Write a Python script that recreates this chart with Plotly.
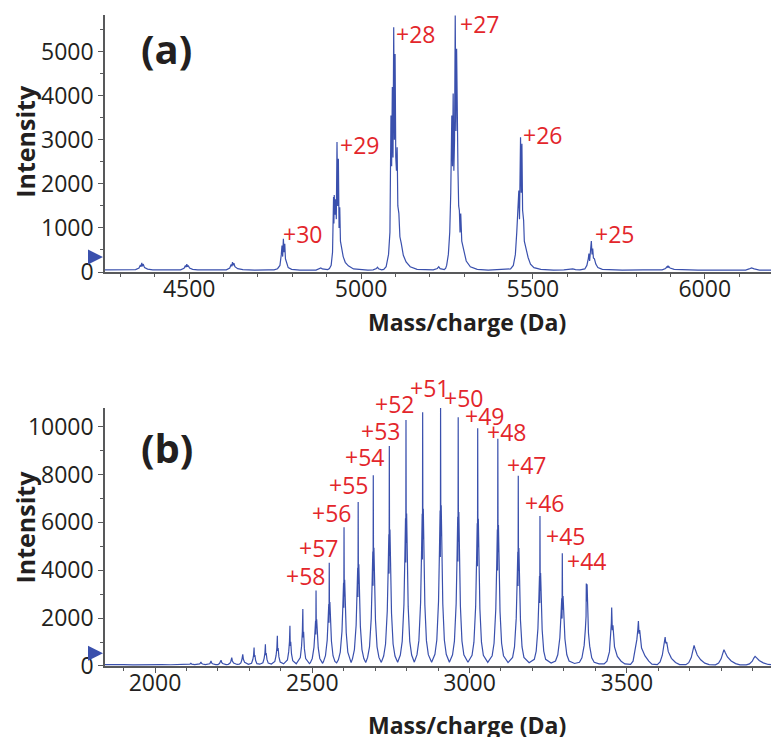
import plotly.graph_objects as go

# ---------------- Panel (a): mass spectrum, charge states +25..+30 ----------------
# (m/z in Da, intensity) vertices
a_left = [(4255, 50), (4300, 45), (4330, 52)]
a_s4362 = [(4344, 55), (4354, 90), (4358, 160), (4360, 120), (4362, 205), (4364, 130),
           (4366, 180), (4370, 100), (4379, 65), (4394, 50)]
a_s4493 = [(4475, 50), (4485, 85), (4489, 150), (4491, 110), (4493, 180), (4495, 120),
           (4497, 150), (4501, 90), (4510, 60), (4525, 50), (4560, 46)]
a_s4628 = [(4608, 50), (4618, 90), (4622, 170), (4624, 130), (4626, 225), (4628, 150),
           (4630, 200), (4633, 120), (4641, 75), (4656, 55), (4690, 42), (4730, 48)]
a_z30 = [(4747, 50), (4757, 75), (4764, 150), (4768, 400), (4770, 600), (4772, 350),
         (4774, 757), (4776, 450), (4778, 640), (4780, 300), (4783, 200), (4788, 100),
         (4798, 60), (4822, 45)]
a_s4883 = [(4869, 45), (4879, 70), (4883, 95), (4887, 70), (4898, 48)]
a_z29 = [(4903, 55), (4908, 80), (4913, 150), (4917, 450), (4919, 1200), (4920, 1700),
         (4921, 1100), (4922, 1750), (4924, 1300), (4926, 1650), (4928, 1200), (4930, 2948),
         (4932, 1500), (4934, 2570), (4936, 1000), (4938, 1470), (4940, 700), (4943, 560),
         (4948, 350), (4954, 220), (4963, 140), (4978, 70), (4998, 50), (5020, 45)]
a_s5048 = [(5035, 50), (5045, 80), (5048, 110), (5051, 75), (5060, 50)]
a_z28 = [(5066, 60), (5073, 120), (5080, 400), (5084, 900), (5086, 2000), (5087, 3550),
         (5089, 2400), (5091, 4200), (5093, 2600), (5095, 5556), (5097, 3000), (5099, 4950),
         (5101, 2600), (5103, 2300), (5105, 2830), (5107, 1500), (5110, 1330), (5113, 800),
         (5117, 650), (5123, 380), (5131, 230), (5143, 120), (5163, 60), (5190, 48)]
a_s5226 = [(5210, 50), (5222, 80), (5226, 120), (5230, 75), (5242, 55)]
a_z27 = [(5246, 80), (5249, 150), (5254, 400), (5258, 900), (5261, 1800), (5264, 3550),
         (5266, 2400), (5268, 4050), (5270, 2300), (5272, 3000), (5274, 5821), (5276, 3200),
         (5278, 5066), (5280, 2800), (5282, 2300), (5284, 1500), (5286, 1400), (5288, 900),
         (5290, 1330), (5293, 700), (5298, 520), (5306, 250), (5318, 120), (5338, 60),
         (5370, 45), (5400, 52)]
a_z26 = [(5413, 50), (5435, 70), (5443, 150), (5449, 400), (5453, 900), (5456, 1300),
         (5459, 1850), (5461, 1200), (5464, 3061), (5466, 1800), (5468, 2910), (5470, 1400),
         (5473, 1170), (5475, 700), (5478, 600), (5482, 450), (5486, 330), (5493, 180),
         (5503, 100), (5523, 60), (5560, 45), (5590, 50)]
a_s5616 = [(5609, 55), (5616, 70), (5624, 55)]
a_z25 = [(5637, 50), (5651, 70), (5657, 150), (5661, 300), (5663, 420), (5665, 250),
         (5667, 450), (5670, 703), (5672, 400), (5674, 530), (5676, 320), (5679, 300),
         (5683, 180), (5689, 100), (5702, 60), (5760, 45), (5820, 50), (5860, 45)]
a_s5893 = [(5876, 50), (5886, 80), (5891, 130), (5893, 100), (5895, 130), (5899, 90),
           (5911, 60), (5980, 45), (6060, 48)]
a_s6136 = [(6119, 45), (6129, 70), (6136, 95), (6144, 70), (6159, 45), (6216, 40)]

a_segments = [a_left, a_s4362, a_s4493, a_s4628, a_z30, a_s4883, a_z29, a_s5048, a_z28,
              a_s5226, a_z27, a_z26, a_s5616, a_z25, a_s5893, a_s6136]

a_labels = ["+30", "+29", "+28", "+27", "+26", "+25"]
a_label_mz = [4830, 4995, 5157, 5345, 5529, 5738]
a_label_int = [871, 2873, 5406, 5633, 3100, 871]

# ---------------- Panel (b): mass spectrum, charge states +44..+58 ----------------
b_left = [(1841, 60), (1870, 45), (1900, 60), (1930, 48), (1960, 62), (1990, 50),
          (2020, 58), (2050, 52)]
b_small = [
    (2075, 55), (2081, 65), (2083, 80), (2086, 62), (2095, 50),
    (2105, 55), (2111, 75), (2114, 115), (2117, 75), (2126, 55),
    (2136, 55), (2142, 85), (2144, 120), (2146, 170), (2148, 110), (2151, 85), (2160, 55),
    (2168, 60), (2174, 95), (2176, 140), (2178, 210), (2180, 130), (2183, 95), (2193, 60),
    (2200, 60), (2205, 100), (2208, 160), (2210, 240), (2212, 150), (2215, 105), (2226, 62),
    (2233, 70), (2238, 110), (2241, 190), (2244, 350), (2246, 210), (2250, 120), (2261, 65),
    (2268, 75), (2273, 130), (2276, 250), (2279, 490), (2281, 280), (2285, 150), (2297, 70),
]
b_rise = [
    (2307, 115), (2311, 270), (2313.5, 460), (2315, 770), (2316, 385), (2317.5, 460), (2320, 230), (2324, 100), (2333, 75),
    (2343, 135), (2347, 320), (2349.5, 545), (2351, 910), (2352, 455), (2353.5, 545), (2356, 275), (2360, 120), (2370, 80),
    (2381, 190), (2385, 440), (2387.5, 755), (2389, 1260), (2390, 630), (2391.5, 755), (2394, 380), (2398, 165), (2409, 90),
    (2421, 250), (2425, 590), (2427.5, 1010), (2429, 1680), (2430, 840), (2431.5, 1010), (2434, 505), (2438, 220), (2449, 95),
    (2462, 355), (2466, 830), (2468.5, 1430), (2470, 2380), (2471, 1190), (2472.5, 1430), (2475, 715), (2479, 310), (2491, 100),
    (2494, 140), (2500, 315), (2505.5, 790), (2508.5, 1420), (2510.5, 1890), (2511.3, 1320), (2512, 3150),
    (2512.8, 1575), (2514, 1950), (2516, 1260), (2519, 755), (2524, 315), (2530, 140), (2533, 110),
]
b_z58_54 = [
    (2536, 195), (2542, 430), (2547.5, 1080), (2550.5, 1940), (2552.5, 2590), (2553.3, 1810), (2554, 4310),
    (2554.8, 2155), (2556, 2670), (2558, 1725), (2561, 1035), (2566, 430), (2572, 195), (2577.5, 130),
    (2583, 260), (2589, 580), (2594.5, 1450), (2597.5, 2610), (2599.5, 3480), (2600.3, 2435), (2601, 5800),
    (2601.8, 2900), (2603, 3600), (2605, 2320), (2608, 1390), (2613, 580), (2619, 260), (2623.5, 140),
    (2628, 310), (2634, 685), (2639.5, 1710), (2642.5, 3080), (2644.5, 4110), (2645.3, 2880), (2646, 6850),
    (2646.8, 3425), (2648, 4250), (2650, 2740), (2653, 1645), (2658, 685), (2664, 310), (2670, 145),
    (2676, 360), (2682, 800), (2687.5, 1990), (2690.5, 3590), (2692.5, 4780), (2693.3, 3350), (2694, 7970),
    (2694.8, 3985), (2696, 4940), (2698, 3190), (2701, 1910), (2706, 800), (2712, 360), (2719.5, 150),
    (2727, 415), (2733, 920), (2738.5, 2300), (2741.5, 4135), (2743.5, 5510), (2744.3, 3860), (2745, 9190),
    (2745.8, 4595), (2747, 5700), (2749, 3675), (2752, 2205), (2757, 920), (2763, 415), (2771.5, 155),
]
b_z53_49 = [
    (2780, 460), (2786, 1030), (2791.5, 2570), (2794.5, 4625), (2796.5, 6170), (2797.3, 4320), (2798, 10280),
    (2798.8, 5140), (2800, 6375), (2802, 4110), (2805, 2470), (2810, 1030), (2816, 460), (2824.5, 160),
    (2833, 475), (2839, 1060), (2844.5, 2650), (2847.5, 4770), (2849.5, 6360), (2850.3, 4450), (2851, 10600),
    (2851.8, 5300), (2853, 6570), (2855, 4240), (2858, 2545), (2863, 1060), (2869, 475), (2879.5, 160),
    (2890, 490), (2896, 1085), (2901.5, 2710), (2904.5, 4880), (2906.5, 6500), (2907.3, 4550), (2908, 10840),
    (2908.8, 5420), (2910, 6720), (2912, 4335), (2915, 2600), (2920, 1085), (2926, 490), (2936, 160),
    (2946, 470), (2952, 1040), (2957.5, 2600), (2960.5, 4675), (2962.5, 6235), (2963.3, 4365), (2964, 10390),
    (2964.8, 5195), (2966, 6440), (2968, 4155), (2971, 2495), (2976, 1040), (2982, 470), (2995, 155),
    (3008, 445), (3014, 995), (3019.5, 2480), (3022.5, 4470), (3024.5, 5960), (3025.3, 4170), (3026, 9930),
    (3026.8, 4965), (3028, 6155), (3030, 3970), (3033, 2385), (3038, 995), (3044, 445), (3058, 150),
]
b_z48_44 = [
    (3072, 430), (3078, 950), (3083.5, 2375), (3086.5, 4275), (3088.5, 5700), (3089.3, 3990), (3090, 9500),
    (3090.8, 4750), (3092, 5890), (3094, 3800), (3097, 2280), (3102, 950), (3108, 430), (3122.5, 145),
    (3137, 360), (3143, 795), (3148.5, 1990), (3151.5, 3580), (3153.5, 4770), (3154.3, 3340), (3155, 7950),
    (3155.8, 3975), (3157, 4930), (3159, 3180), (3162, 1910), (3167, 795), (3173, 360), (3189.5, 135),
    (3206, 280), (3212, 625), (3217.5, 1570), (3220.5, 2820), (3222.5, 3760), (3223.3, 2630), (3224, 6270),
    (3224.8, 3135), (3226, 3890), (3228, 2510), (3231, 1505), (3236, 625), (3242, 280), (3259.5, 125),
    (3273.4, 210), (3280.6, 470), (3287.2, 1180), (3290.8, 2120), (3293.2, 2830), (3294.2, 1980), (3295, 4710),
    (3296, 2355), (3297.4, 2920), (3299.8, 1885), (3303.4, 1130), (3309.4, 470), (3316.6, 210), (3334, 105),
    (3349.6, 155), (3357.4, 345), (3364.5, 860), (3368.4, 1550), (3370.5, 2070), (3371.3, 3450),
    (3372.5, 2700), (3373.8, 3420), (3375.6, 2140), (3378.2, 1380), (3382.1, 830), (3388.6, 345),
    (3396.4, 155), (3412, 90),
]
b_tail = [
    (3428, 85), (3437, 200), (3445, 600), (3449, 1200), (3451, 1800), (3452, 2440),
    (3454, 1500), (3456, 1700), (3461, 800), (3470, 400), (3482, 200), (3494, 85),
    (3512, 70), (3520, 200), (3527, 650), (3532, 1100), (3535, 1500), (3537, 1880),
    (3539, 1350), (3541, 1500), (3547, 750), (3558, 420), (3570, 200), (3580, 80),
    (3597, 60), (3606, 170), (3613, 450), (3618, 800), (3621, 1100), (3622, 1210),
    (3624, 950), (3627, 1000), (3632, 600), (3642, 320), (3655, 150), (3668, 60),
    (3688, 55), (3697, 140), (3705, 350), (3710, 620), (3714, 860), (3717, 720),
    (3724, 460), (3735, 260), (3748, 120), (3762, 55),
    (3782, 50), (3792, 120), (3800, 300), (3805, 520), (3809, 680), (3813, 560),
    (3820, 380), (3832, 210), (3846, 100), (3860, 50),
    (3880, 45), (3890, 90), (3899, 200), (3904, 330), (3908, 400), (3913, 340),
    (3921, 230), (3934, 130), (3950, 65), (3966, 45), (3984, 40),
]
b_segments = [b_left, b_small, b_rise, b_z58_54, b_z53_49, b_z48_44, b_tail]

b_labels = ["+58", "+57", "+56", "+55", "+54", "+53", "+52", "+51", "+50",
            "+49", "+48", "+47", "+46", "+45", "+44"]
b_label_mz = [2479, 2519, 2562, 2615, 2665, 2718, 2763, 2872, 2980,
              3047, 3118, 3182, 3237, 3304, 3371]
b_label_int = [3756, 4918, 6412, 7575, 8737, 9811, 10932, 11632, 11213,
               10441, 9769, 8414, 6832, 5447, 4398]

a_xrange = [4255, 6216]
b_xrange = [1841, 3984]
a_ymax = 5833
b_ymax = 10781
a_xticks = [4500, 5000, 5500, 6000]
b_xticks = [2000, 2500, 3000, 3500]
a_yticks = [0, 1000, 2000, 3000, 4000, 5000]
b_yticks = [0, 2000, 4000, 6000, 8000, 10000]
arrow_level_a = 340
arrow_level_b = 537


def unzip(segments):
    xs, ys = [], []
    for seg in segments:
        for mz, inten in seg:
            xs.append(mz)
            ys.append(inten)
    return xs, ys


mz_a, int_a = unzip(a_segments)
mz_b, int_b = unzip(b_segments)

LINE = "#3a50ad"
RED = "#e3262b"
INK = "#231f20"
AXIS = "#58595b"
FONT = "Open Sans"

fig = go.Figure()
fig.add_trace(go.Scatter(x=mz_a, y=int_a, mode="lines", xaxis="x", yaxis="y",
                         line=dict(color=LINE, width=1.2), hoverinfo="skip"))
fig.add_trace(go.Scatter(x=mz_b, y=int_b, mode="lines", xaxis="x2", yaxis="y2",
                         line=dict(color=LINE, width=1.2), hoverinfo="skip"))

common_x = dict(showline=True, linecolor=AXIS, linewidth=1.5, showgrid=False, zeroline=False,
                ticks="outside", ticklen=5, tickwidth=1.2, tickcolor=AXIS,
                tickfont=dict(family=FONT, size=23, color=INK), tickformat="d",
                ticklabelstandoff=-9,
                minor=dict(dtick=100, ticks="outside", ticklen=3, tickcolor=AXIS))
common_y = dict(showline=True, linecolor=AXIS, linewidth=1.5, showgrid=False, zeroline=False,
                ticks="outside", ticklen=5, tickwidth=1.2, tickcolor=AXIS,
                tickfont=dict(family=FONT, size=23, color=INK), tickformat="d")

# the page body adds an 8 px offset, so the figure is 8 px smaller and margins compensate
fig.update_layout(
    width=771, height=729,
    margin=dict(l=97, r=0, t=7, b=71),
    paper_bgcolor="white", plot_bgcolor="white",
    showlegend=False,
    xaxis=dict(common_x, range=a_xrange, tickvals=a_xticks, anchor="y", domain=[0, 1]),
    yaxis=dict(common_y, range=[0, a_ymax], tickvals=a_yticks, anchor="x", domain=[0.6052, 1.0],
               minor=dict(dtick=500, ticks="outside", ticklen=3, tickcolor=AXIS)),
    xaxis2=dict(common_x, range=b_xrange, tickvals=b_xticks, anchor="y2", domain=[0, 1]),
    yaxis2=dict(common_y, range=[0, b_ymax], tickvals=b_yticks, anchor="x2", domain=[0, 0.3963],
                minor=dict(dtick=1000, ticks="outside", ticklen=3, tickcolor=AXIS)),
)

ann = []
for t, x, y in zip(a_labels, a_label_mz, a_label_int):
    ann.append(dict(x=(x - a_xrange[0]) / (a_xrange[1] - a_xrange[0]), y=y / a_ymax,
                    xref="x domain", yref="y domain", text=t, showarrow=False,
                    font=dict(family=FONT, size=23, color=RED), xanchor="center", yanchor="middle"))
for t, x, y in zip(b_labels, b_label_mz, b_label_int):
    ann.append(dict(x=(x - b_xrange[0]) / (b_xrange[1] - b_xrange[0]), y=y / b_ymax,
                    xref="x2 domain", yref="y2 domain", text=t, showarrow=False,
                    font=dict(family=FONT, size=23, color=RED), xanchor="center", yanchor="middle"))

# panel letters
ann.append(dict(x=0.0915, y=0.9478, xref="paper", yref="paper", text="<b>(a)</b>", showarrow=False,
                font=dict(family=FONT, size=40, color=INK), xanchor="center", yanchor="middle"))
ann.append(dict(x=0.0915, y=0.336, xref="paper", yref="paper", text="<b>(b)</b>", showarrow=False,
                font=dict(family=FONT, size=40, color=INK), xanchor="center", yanchor="middle"))

# axis titles
for yy in (0.8065, 0.214):
    ann.append(dict(x=-0.119, y=yy, xref="paper", yref="paper", text="<b>Intensity</b>",
                    showarrow=False, textangle=-90,
                    font=dict(family=FONT, size=25, color=INK), xanchor="center", yanchor="middle"))
for yy in (0.529, -0.0913):
    ann.append(dict(x=0.5364, y=yy, xref="paper", yref="paper", text="<b>Mass/charge (Da)</b>",
                    showarrow=False, font=dict(family=FONT, size=23, color=INK),
                    xanchor="center", yanchor="middle"))

# small baseline arrows left of the y axes
for xr, yr, lvl in (("x domain", "y", arrow_level_a), ("x2 domain", "y2", arrow_level_b)):
    ann.append(dict(x=-0.003, y=lvl, xref=xr, yref=yr, text="", showarrow=True,
                    arrowhead=2, arrowsize=1, arrowwidth=3, arrowcolor=LINE,
                    ax=-8, ay=0, axref="pixel", ayref="pixel"))

fig.update_layout(annotations=ann)
fig.write_html("out.html")
